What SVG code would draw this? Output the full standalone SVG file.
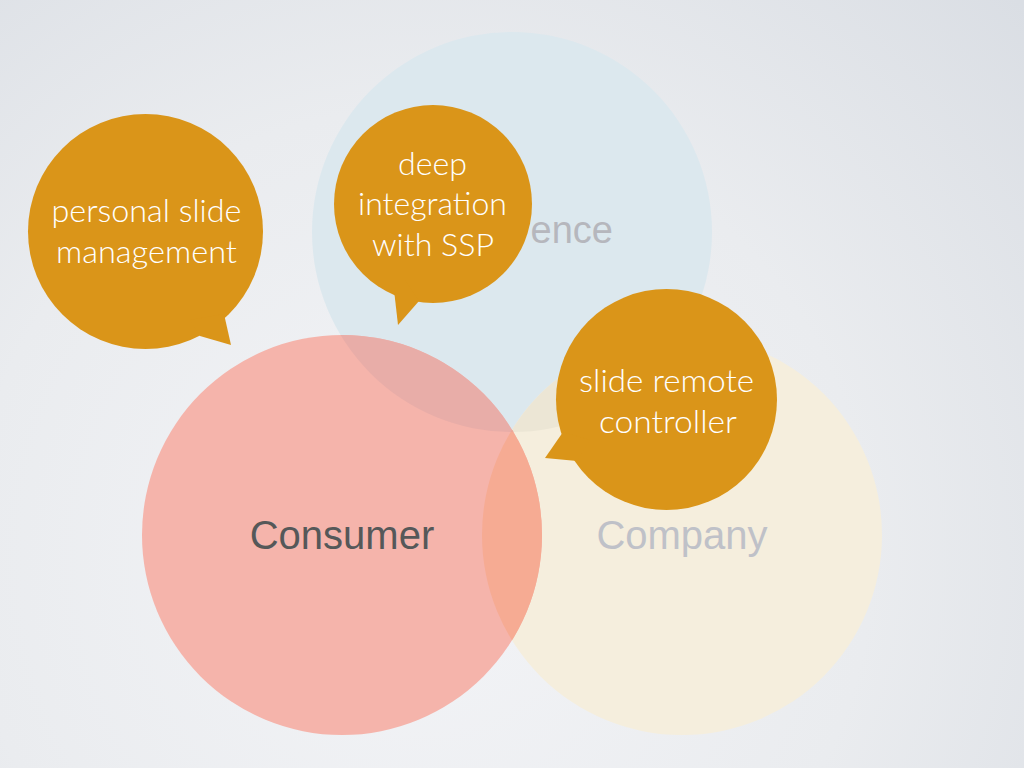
<svg xmlns="http://www.w3.org/2000/svg" width="1024" height="768" viewBox="0 0 1024 768">
  <defs>
    <radialGradient id="bg" cx="420" cy="560" r="820" gradientUnits="userSpaceOnUse">
      <stop offset="0" stop-color="#F3F4F7"/>
      <stop offset="0.55" stop-color="#EAECEF"/>
      <stop offset="1" stop-color="#DADEE4"/>
    </radialGradient>
    <clipPath id="clipBlue"><circle cx="512" cy="232" r="200"/></clipPath>
    <clipPath id="clipPink"><circle cx="342" cy="535" r="200"/></clipPath>
    <style>
      .label { font-family: "Liberation Sans", Arial, sans-serif; font-size: 40px; text-anchor: middle; }
      .bubble { fill: #DA9519; }
      .btext { font-family: Lato, "Open Sans", sans-serif; font-weight: 300; font-size: 31px; fill: #FFFFFF; text-anchor: middle; }
    </style>
  </defs>

  <rect x="0" y="0" width="1024" height="768" fill="url(#bg)"/>

  <g id="audience">
    <circle cx="512" cy="232" r="200" fill="#DCE8EE"/>
  </g>
  <g id="company">
    <circle cx="682" cy="535" r="200" fill="#F5EEDD"/>
    <circle cx="682" cy="535" r="200" fill="#ECE6D5" clip-path="url(#clipBlue)"/>
  </g>
  <g id="consumer">
    <circle cx="342" cy="535" r="200" fill="#F5B4AB"/>
    <g clip-path="url(#clipPink)">
      <circle cx="512" cy="232" r="200" fill="#E8ADA8"/>
      <circle cx="682" cy="535" r="200" fill="#F6AB93"/>
      <circle cx="682" cy="535" r="200" fill="#EAA79A" clip-path="url(#clipBlue)"/>
    </g>
  </g>

  <g id="labels">
    <text x="613" y="243" font-family="Liberation Sans, Arial, sans-serif" font-size="38" fill="#B6B7BD" text-anchor="end">ence</text>
    <text class="label" x="342" y="549" fill="#555859">Consumer</text>
    <text class="label" x="682" y="549" fill="#BFC1C8">Company</text>
  </g>

  <g id="connectors"></g>

  <g id="bubble-personal">
    <circle class="bubble" cx="145.5" cy="231.5" r="117.5"/>
    <path class="bubble" d="M 224 314 L 231 345 L 200 336 L 190 320 Z"/>
    <text class="btext" x="146.5" y="222" textLength="190" lengthAdjust="spacingAndGlyphs">personal slide</text>
    <text class="btext" x="146.5" y="263" textLength="181" lengthAdjust="spacingAndGlyphs">management</text>
  </g>

  <g id="bubble-integration">
    <circle class="bubble" cx="433" cy="204" r="99"/>
    <path class="bubble" d="M 394 290 L 398 325 L 419 301 L 405 280 Z"/>
    <text class="btext" x="432.5" y="175" textLength="69" lengthAdjust="spacingAndGlyphs">deep</text>
    <text class="btext" x="432.5" y="215" textLength="149" lengthAdjust="spacingAndGlyphs">integration</text>
    <text class="btext" x="433" y="256" textLength="122" lengthAdjust="spacingAndGlyphs">with SSP</text>
  </g>

  <g id="bubble-remote">
    <circle class="bubble" cx="666.5" cy="399.5" r="110.5"/>
    <path class="bubble" d="M 563 432 L 545 458 L 577 461 L 590 440 Z"/>
    <text class="btext" x="666.5" y="392" textLength="175" lengthAdjust="spacingAndGlyphs">slide remote</text>
    <text class="btext" x="668" y="433" textLength="138" lengthAdjust="spacingAndGlyphs">controller</text>
  </g>
</svg>
